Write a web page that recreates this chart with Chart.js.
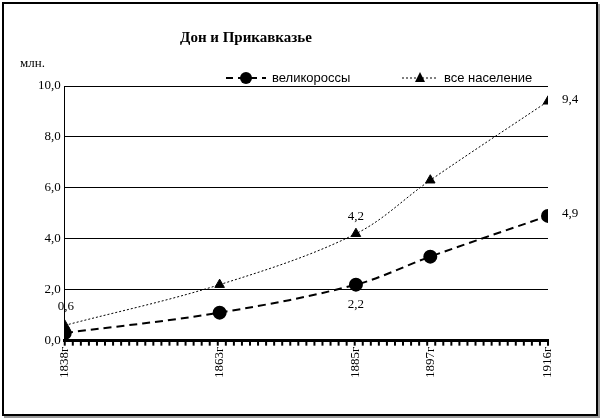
<!DOCTYPE html>
<html><head><meta charset="utf-8">
<script src="https://cdn.jsdelivr.net/npm/chart.js@4"></script>
<style>
html,body{margin:0;padding:0;background:#fff;}
#wrap{position:absolute;left:2px;top:2px;width:592px;height:410px;border:2px solid #000;box-shadow:2px 2px 0 #999;}
canvas{display:block;}
</style></head><body>
<div id="wrap"><canvas id="c" width="592" height="410"></canvas></div>
<script>
const years = [1838, 1863, 1885, 1897, 1916];
const tickYears = [1838, 1863, 1885, 1897, 1916];
const velikorossy = [0.3, 1.1, 2.2, 3.3, 4.9];
const vseNaselenie = [0.6, 2.2, 4.2, 6.3, 9.4];
const labelsVel = {1885:'2,2', 1916:'4,9'};
const labelsVse = {1838:'0,6', 1885:'4,2', 1916:'9,4'};

const mk = (arr) => years.map((y,i)=>({x:y,y:arr[i]}));
const extras = {
  id:'extras',
  afterDatasetsDraw(chart){
    const {ctx,scales:{x,y}} = chart;
    ctx.save();
    ctx.fillStyle = '#000'; ctx.strokeStyle='#000';
    // minor ticks under axis
    ctx.lineWidth=2;
    const y0=y.getPixelForValue(0);
    for(let yr=1838; yr<=1916; yr+=1.3){const px=x.getPixelForValue(yr);ctx.beginPath();ctx.moveTo(px,y0);ctx.lineTo(px,y0+5);ctx.stroke();}
    // value labels
    ctx.font = '13px "Liberation Serif"';
    ctx.textAlign='center'; ctx.textBaseline='middle';
    const put=(yr,v,t)=>{
      let px=x.getPixelForValue(yr), py=y.getPixelForValue(v);
      if(yr===1838){ctx.fillText(t,px+1,py-19);}
      else if(yr===1916){ctx.fillText(t,px+22,py-2);}
      else if(t==='2,2'&&v<3){ctx.fillText(t,px,py+20);}
      else ctx.fillText(t,px,py-17);
    };
    years.forEach((yr,i)=>{ if(labelsVse[yr]) put(yr,vseNaselenie[i],labelsVse[yr]); if(labelsVel[yr]) put(yr,velikorossy[i],labelsVel[yr]);});
    ctx.textAlign='left';
    ctx.fillText('млн.', 16, 60);
    // title
    ctx.font='bold 15px "Liberation Serif"'; ctx.textAlign='center';
    ctx.fillText('Дон и Прикавказье', 242, 34);
    // legend
    ctx.font='13px "Liberation Sans"'; ctx.textAlign='left';
    const ly=74;
    ctx.lineWidth=2; ctx.setLineDash([7,5]);
    ctx.beginPath(); ctx.moveTo(222,ly); ctx.lineTo(262,ly); ctx.stroke();
    ctx.setLineDash([]);
    ctx.beginPath(); ctx.arc(242,ly,6,0,Math.PI*2); ctx.fill();
    ctx.fillText('великороссы', 268, ly);
    ctx.lineWidth=1; ctx.setLineDash([2,2]);
    ctx.beginPath(); ctx.moveTo(398,ly); ctx.lineTo(434,ly); ctx.stroke();
    ctx.setLineDash([]);
    ctx.beginPath(); ctx.moveTo(416,ly-6); ctx.lineTo(421,ly+4); ctx.lineTo(411,ly+4); ctx.closePath(); ctx.fill();
    ctx.fillText('все население', 440, ly);
    ctx.restore();
  }
};
new Chart(document.getElementById('c'),{
  type:'line',
  data:{datasets:[
    {label:'великороссы',data:mk(velikorossy),borderColor:'#000',backgroundColor:'#000',borderWidth:2,borderDash:[8,5],pointStyle:'circle',pointRadius:6,tension:0.35},
    {label:'все население',data:mk(vseNaselenie),borderColor:'#000',backgroundColor:'#000',borderWidth:1,borderDash:[2,2],pointStyle:'triangle',pointRadius:5.5,tension:0.35}
  ]},
  plugins:[extras],
  options:{
    responsive:false,animation:false,
    layout:{padding:{left:30,right:48,top:82,bottom:30}},
    plugins:{title:{display:false},legend:{display:false},tooltip:{enabled:false}},
    scales:{
      x:{type:'linear',min:1838,max:1916,
        ticks:{autoSkip:false,maxRotation:90,minRotation:90,color:'#000',font:{family:'Liberation Serif',size:13},
          callback:(v)=>v+'г',padding:6},
        afterBuildTicks:(s)=>{s.ticks=tickYears.map(v=>({value:v}));},
        grid:{display:false,drawTicks:false},
        border:{color:'#000',width:3}},
      y:{min:0,max:10,ticks:{stepSize:2,color:'#000',font:{family:'Liberation Serif',size:13},callback:v=>v.toFixed(1).replace('.',','),padding:4},
        grid:{color:'#000',lineWidth:1,drawTicks:false},border:{display:true,color:'#000'}}
    }
  }
});
</script>
</body></html>
